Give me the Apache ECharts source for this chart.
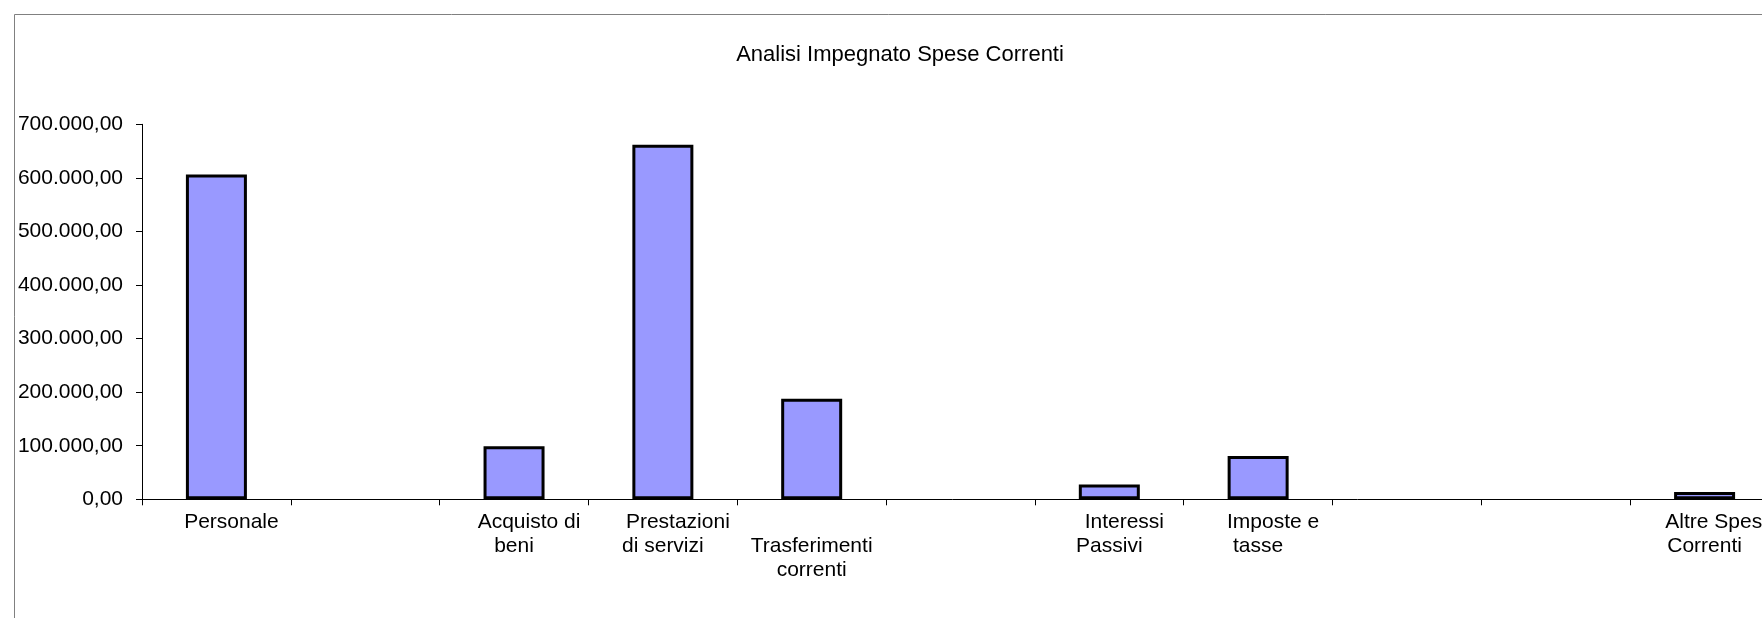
<!DOCTYPE html>
<html>
<head>
<meta charset="utf-8">
<style>html,body{margin:0;padding:0;background:#fff;}#c{width:1762px;height:618px;}</style>
<script src="https://cdn.jsdelivr.net/npm/echarts@6/dist/echarts.min.js"></script>
</head>
<body>
<div id="c"></div>
<script>
const titleText = 'Analisi Impegnato Spese Correnti';
const categories = ['Personale', '', 'Acquisto di beni', 'Prestazioni di servizi', 'Trasferimenti correnti', '', 'Interessi Passivi', 'Imposte e tasse', '', '', 'Altre Spese Correnti'];
const labelLines = [['Personale'], [], ['Acquisto di', 'beni'], ['Prestazioni', 'di servizi'], ['Trasferimenti', 'correnti'], [], ['Interessi', 'Passivi'], ['Imposte e', 'tasse'], [], [], ['Altre Spese', 'Correnti']];
const staggered = [false, false, false, false, true, false, false, false, false, false, false];
const values = [606500, null, 99000, 662000, 187500, null, 27500, 81000, null, null, 13500];
const yTicks = [0, 100000, 200000, 300000, 400000, 500000, 600000, 700000];

function fmtIt(v) {
  const s = Math.round(v).toString().replace(/\B(?=(\d{3})+(?!\d))/g, '.');
  return s + ',00';
}

const FONT = 'Liberation Sans, Arial, sans-serif';
const chart = echarts.init(document.getElementById('c'), null, {renderer: 'canvas'});
chart.setOption({
  animation: false,
  backgroundColor: '#fff',
  title: {
    text: titleText,
    left: 895, top: 39, textAlign: 'center',
    textStyle: {fontFamily: FONT, fontSize: 22, fontWeight: 'normal', color: '#000'}
  },
  graphic: [{
    type: 'rect', left: 12, top: 12, silent: true,
    shape: {x: 0, y: 0, width: 2000, height: 2000},
    style: {fill: 'none', stroke: '#808080', lineWidth: 1}
  }],
  grid: {left: 142, width: 1637, top: 124.3, bottom: 118.7, containLabel: false, outerBoundsMode: 'none'},
  xAxis: {
    type: 'category',
    data: categories,
    boundaryGap: true,
    axisLine: {lineStyle: {color: '#000', width: 1}},
    axisTick: {show: true, length: 6, interval: 0, lineStyle: {color: '#000'}},
    axisLabel: {
      interval: 0, margin: 11, hideOverlap: false,
      formatter: function (val, idx) {
        const lines = labelLines[idx] || [];
        if (!lines.length) return '';
        const out = [];
        if (staggered[idx]) out.push('{s| }');
        lines.forEach(function (l, i) {
          out.push((i === 0 && !staggered[idx]) ? '{a|' + l + '}' : '{b|' + l + '}');
        });
        return out.join('\n');
      },
      rich: {
        a: {fontFamily: FONT, fontSize: 21, color: '#000', lineHeight: 24, padding: [0, 0, 0, 30]},
        b: {fontFamily: FONT, fontSize: 21, color: '#000', lineHeight: 24},
        s: {fontFamily: FONT, fontSize: 21, color: '#000', lineHeight: 24}
      }
    }
  },
  yAxis: {
    type: 'value', min: 0, max: 700000, interval: 100000,
    axisLine: {show: true, lineStyle: {color: '#000', width: 1}},
    axisTick: {show: true, length: 6, lineStyle: {color: '#000'}},
    splitLine: {show: false},
    axisLabel: {
      margin: 19, fontFamily: FONT, fontSize: 21, color: '#000',
      formatter: function (v) { return fmtIt(v); }
    }
  },
  series: [{
    type: 'bar',
    data: values,
    barWidth: 61,
    itemStyle: {color: '#9999FF', borderColor: '#000', borderWidth: 3}
  }]
});
</script>
</body>
</html>
